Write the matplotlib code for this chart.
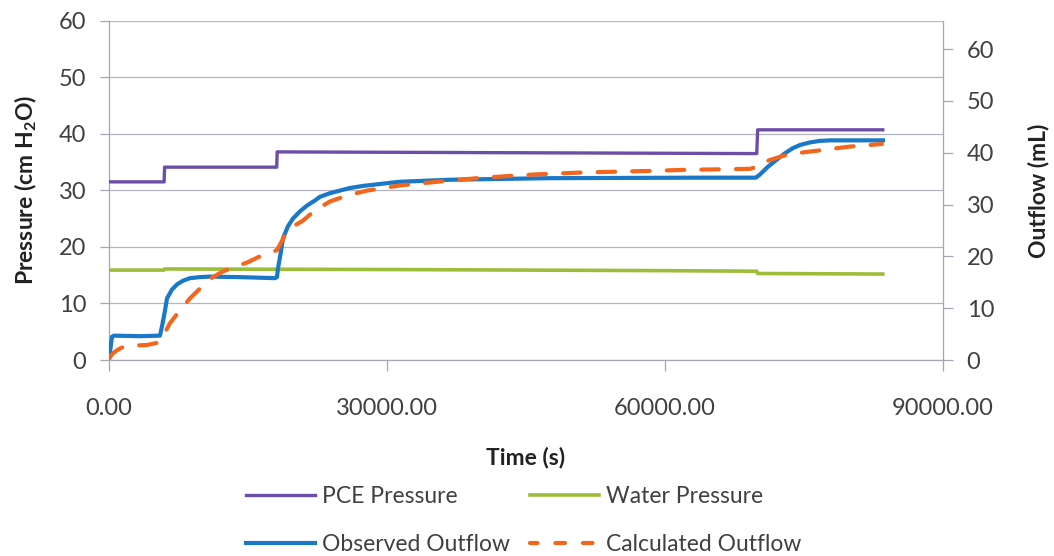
import numpy as np
import matplotlib
matplotlib.use("Agg")
import matplotlib.pyplot as plt
from matplotlib.lines import Line2D

plt.rcParams['font.family'] = ['Lato', 'DejaVu Sans']
plt.rcParams['mathtext.fontset'] = 'custom'
plt.rcParams['mathtext.rm'] = 'Lato'
plt.rcParams['mathtext.bf'] = 'Lato:bold'

# ---- pressure series (cm H2O), left axis ----
t_pce = [0, 5950, 6000, 18100, 18150, 69900, 70000, 83500]
pce_pressure = [31.5, 31.5, 34.1, 34.1, 36.8, 36.5, 40.7, 40.7]

t_water = [0, 5950, 6000, 30000, 60000, 69900, 70000, 83500]
water_pressure = [15.9, 15.9, 16.1, 16.0, 15.8, 15.7, 15.3, 15.2]

# ---- outflow series (mL), right axis ----
t_obs = [0, 320, 540, 3345, 5500, 5720, 6040, 6260, 6800, 7340, 7980, 8740,
         9820, 10900, 14130, 17910, 18130, 18240, 18560, 18780, 19310, 19850,
         20610, 21360, 22230, 22770, 23850, 24920, 26000, 27400, 30320, 31400,
         36800, 47600, 63770, 69810, 70240, 71100, 72080, 72940, 73800, 74560,
         75640, 76720, 77800, 83520]
observed_outflow = [0, 4.5, 4.7, 4.6, 4.7, 6.5, 9.5, 11.9, 13.6, 14.6, 15.3, 15.8,
                    16.0, 16.1, 16.0, 15.8, 16.0, 17.7, 21.0, 23.5, 25.8, 27.3,
                    28.7, 29.8, 30.8, 31.5, 32.2, 32.7, 33.2, 33.6, 34.2, 34.4,
                    34.8, 35.1, 35.2, 35.2, 35.8, 37.3, 38.7, 39.9, 40.9, 41.5,
                    42.0, 42.3, 42.4, 42.4]

t_calc = [0, 430, 970, 1510, 2800, 4100, 5180, 5500, 6040, 6580, 7660, 8740,
          9820, 10570, 11220, 12300, 13600, 14890, 16290, 17370, 18130, 18670,
          19210, 20070, 20930, 22230, 23850, 25790, 27840, 31400, 35390, 40350,
          45750, 51140, 58370, 61930, 69160, 69810, 70240, 71320, 72720, 74560,
          76390, 79950, 83410]
calculated_outflow = [0.3, 1.3, 2.0, 2.5, 2.8, 2.9, 3.3, 3.8, 5.3, 7.1, 9.6, 11.9,
                      13.8, 15.2, 16.0, 17.1, 18.0, 18.8, 20.0, 20.7, 21.2, 23.0,
                      24.8, 26.0, 26.9, 28.9, 30.6, 31.8, 32.7, 33.7, 34.4, 35.2,
                      35.8, 36.2, 36.5, 36.7, 36.9, 37.2, 37.9, 38.6, 39.4, 40.0,
                      40.4, 41.2, 41.7]

x_ticks = [0, 30000, 60000, 90000]
y_ticks = [0, 10, 20, 30, 40, 50, 60]

c_pce = '#6c4ea8'
c_water = '#9cbd3a'
c_obs = '#1a78c8'
c_calc = '#f4661c'
c_text = '#404040'
c_axis = '#a6a6b4'

fig = plt.figure(figsize=(10.54, 5.56), dpi=100)
ax = fig.add_axes([0.1034, 0.3525, 0.7913, 0.6103])
ax2 = ax.twinx()

# pressures
ax.plot(t_pce, pce_pressure, color=c_pce, lw=2.4, zorder=3)
ax.plot(t_water, water_pressure, color=c_water, lw=2.6, zorder=3)

# outflow
ax2.plot(t_obs, observed_outflow, color=c_obs, lw=3.0, zorder=3)
ax2.plot(t_calc, calculated_outflow, color=c_calc, lw=3.0,
         linestyle=(0, (4.2, 4.1)), dash_capstyle='round', zorder=4)

ax.set_xlim(0, 90000)
ax.set_ylim(0, 60)
ax2.set_ylim(0, 65.5)

ax.set_xticks(x_ticks)
ax.set_xticklabels([f'{v:.2f}' for v in x_ticks])
ax.set_yticks(y_ticks)
ax2.set_yticks(y_ticks)

ax.yaxis.grid(True, color='#b4b4c4', lw=0.9)
ax.set_axisbelow(True)

for a in (ax, ax2):
    a.spines['top'].set_visible(False)
    for s in a.spines.values():
        s.set_color(c_axis)
        s.set_linewidth(0.9)
ax.spines['right'].set_visible(False)
ax2.spines['left'].set_visible(False)
ax2.spines['bottom'].set_visible(False)

ax.tick_params(axis='y', direction='out', length=6.5, width=0.9, color=c_axis,
               pad=10, labelsize=17, labelcolor=c_text)
ax.tick_params(axis='x', direction='out', length=8, width=0.9, color=c_axis,
               pad=19, labelsize=17, labelcolor=c_text)
ax2.tick_params(axis='y', direction='out', length=7, width=0.9, color=c_axis,
                pad=10, labelsize=17, labelcolor=c_text)

ax.set_xlabel('Time (s)', fontsize=16.5, fontweight='bold', color='#222222', labelpad=20)
ax.set_ylabel(r'Pressure (cm H$_{\mathbf{2}}$O)', fontsize=16.5, fontweight='bold',
              color='#222222', labelpad=14)
ax2.set_ylabel('Outflow (mL)', fontsize=16.5, fontweight='bold', color='#222222',
               rotation=90, labelpad=24)

handles = [
    Line2D([], [], color=c_pce, lw=2.4),
    Line2D([], [], color=c_obs, lw=3.0),
    Line2D([], [], color=c_water, lw=2.6),
    Line2D([], [], color=c_calc, lw=3.0, linestyle=(0.5, (2.3, 4.3)), dash_capstyle='round'),
]
labels = ['PCE Pressure', 'Observed Outflow', 'Water Pressure', 'Calculated Outflow']
leg = fig.legend(handles, labels, ncol=2, loc='center', bbox_to_anchor=(0.497, 0.064),
                 frameon=False, fontsize=16.5, handlelength=3.0, handletextpad=0.3,
                 columnspacing=0.9, labelspacing=1.2)
for txt in leg.get_texts():
    txt.set_color(c_text)

fig.savefig('out.png', dpi=100)
